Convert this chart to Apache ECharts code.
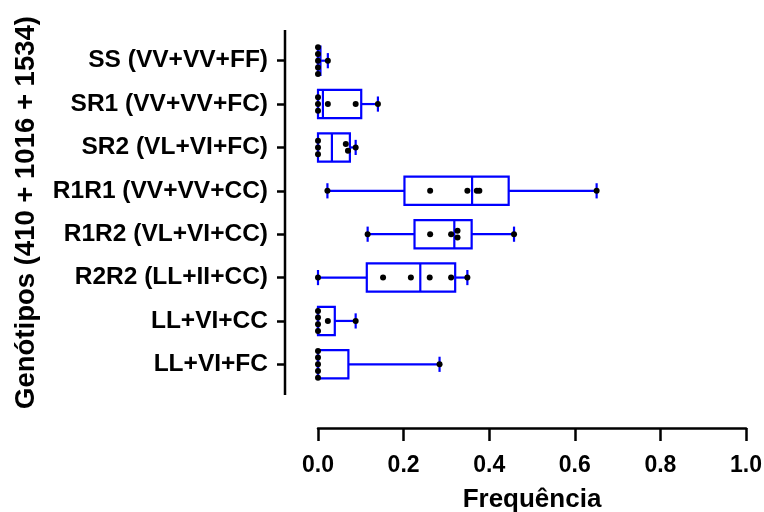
<!DOCTYPE html>
<html>
<head>
<meta charset="utf-8">
<script src="https://cdn.jsdelivr.net/npm/echarts@6/dist/echarts.min.js"></script>
<style>
  html, body { margin: 0; padding: 0; background: #fff; }
  #chart { width: 764px; height: 512px; }
</style>
</head>
<body>
<div id="chart"></div>
<script>
// Genotype groups, top to bottom
const categories = [
  'SS (VV+VV+FF)',
  'SR1 (VV+VV+FC)',
  'SR2 (VL+VI+FC)',
  'R1R1 (VV+VV+CC)',
  'R1R2 (VL+VI+CC)',
  'R2R2 (LL+II+CC)',
  'LL+VI+CC',
  'LL+VI+FC'
];

// Observed frequencies per group
const freqSS     = [0, 0, 0, 0, 0, 0.023];
const freqSR1    = [0, 0, 0, 0.023, 0.088, 0.140];
const freqSR2    = [0, 0, 0, 0.065, 0.070, 0.088];
const freqR1R1   = [0.022, 0.262, 0.349, 0.371, 0.377, 0.651];
const freqR1R2   = [0.116, 0.262, 0.311, 0.326, 0.326, 0.458];
const freqR2R2   = [0, 0.152, 0.217, 0.261, 0.311, 0.349];
const freqLLVICC = [0, 0, 0, 0, 0.023, 0.088];
const freqLLVIFC = [0, 0, 0, 0, 0, 0.284];

const groups = [freqSS, freqSR1, freqSR2, freqR1R1, freqR1R2, freqR2R2, freqLLVICC, freqLLVIFC];

// x axis ticks
const xTicks = [0, 0.2, 0.4, 0.6, 0.8, 1.0];

// Quartile with the (n+1)p rule
function quantile(sorted, p) {
  const n = sorted.length;
  const pos = p * (n + 1);
  if (pos <= 1) return sorted[0];
  if (pos >= n) return sorted[n - 1];
  const lo = Math.floor(pos);
  const f = pos - lo;
  return sorted[lo - 1] + f * (sorted[lo] - sorted[lo - 1]);
}

const boxData = groups.map((vals, i) => {
  const s = vals.slice().sort((a, b) => a - b);
  return [i, s[0], quantile(s, 0.25), quantile(s, 0.5), quantile(s, 0.75), s[s.length - 1]];
});

// Spread coincident points vertically
const DOT_STEP = 6.7;
const TOL = 0.0055;
const dotData = [];
groups.forEach((vals, i) => {
  const s = vals.slice().sort((a, b) => a - b);
  let k = 0;
  while (k < s.length) {
    let j = k;
    while (j + 1 < s.length && s[j + 1] - s[j] < TOL) j++;
    const n = j - k + 1;
    for (let m = 0; m < n; m++) {
      dotData.push({
        value: [s[k + m], i],
        symbolOffset: [0, (m - (n - 1) / 2) * DOT_STEP]
      });
    }
    k = j + 1;
  }
});

const FONT = '"Liberation Sans", Arial, sans-serif';
const BLUE = '#0000ff';

const chart = echarts.init(document.getElementById('chart'));
chart.setOption({
  animation: false,
  backgroundColor: '#ffffff',
  grid: { left: 318, right: 18, top: 39, height: 347, containLabel: false, outerBoundsMode: 'none' },
  xAxis: {
    type: 'value',
    min: xTicks[0],
    max: xTicks[xTicks.length - 1],
    interval: 0.2,
    offset: 42,
    name: 'Frequência',
    nameLocation: 'middle',
    nameGap: 59,
    nameTextStyle: { fontFamily: FONT, fontWeight: 'bold', fontSize: 26, color: '#000' },
    axisLine: { show: true, onZero: false, lineStyle: { color: '#000', width: 2.5 } },
    axisTick: { show: true, length: 13, lineStyle: { color: '#000', width: 2.5 } },
    axisLabel: {
      fontFamily: FONT, fontWeight: 'bold', fontSize: 23, color: '#000', margin: 26,
      formatter: v => v.toFixed(1)
    },
    splitLine: { show: false }
  },
  yAxis: {
    type: 'category',
    data: categories,
    inverse: true,
    offset: 33,
    name: 'Genótipos (410 + 1016 + 1534)',
    nameLocation: 'middle',
    nameGap: 245,
    nameTextStyle: { fontFamily: FONT, fontWeight: 'bold', fontSize: 27.5, color: '#000' },
    axisLine: { show: false, onZero: false },
    axisTick: { show: true, alignWithLabel: true, length: 8, lineStyle: { color: '#000', width: 2.5 } },
    axisLabel: { fontFamily: FONT, fontWeight: 'bold', fontSize: 24.5, color: '#000', margin: 17 },
    splitLine: { show: false }
  },
  // left axis line, running a little past the category bands at both ends
  graphic: [{
    type: 'line',
    shape: { x1: 285, y1: 30, x2: 285, y2: 395 },
    style: { stroke: '#000', lineWidth: 2.5 },
    silent: true
  }],
  series: [
    {
      type: 'custom',
      z: 2,
      encode: { x: [1, 2, 3, 4, 5], y: 0 },
      data: boxData,
      renderItem: function (params, api) {
        const c = api.value(0);
        const y = api.coord([0, c])[1];
        const band = api.size([0, 1])[1];
        const bh = band * 0.65;
        const ch = band * 0.35;
        const px = idx => api.coord([api.value(idx), c])[0];
        const xMin = px(1), xQ1 = px(2), xMed = px(3), xQ3 = px(4), xMax = px(5);
        const st = { stroke: BLUE, lineWidth: 2.2, fill: null };
        return {
          type: 'group',
          children: [
            { type: 'line', shape: { x1: xMin, y1: y, x2: xQ1, y2: y }, style: st },
            { type: 'line', shape: { x1: xQ3, y1: y, x2: xMax, y2: y }, style: st },
            { type: 'line', shape: { x1: xMin, y1: y - ch / 2, x2: xMin, y2: y + ch / 2 }, style: st },
            { type: 'line', shape: { x1: xMax, y1: y - ch / 2, x2: xMax, y2: y + ch / 2 }, style: st },
            { type: 'rect', shape: { x: xQ1, y: y - bh / 2, width: xQ3 - xQ1, height: bh }, style: { stroke: BLUE, lineWidth: 2.2, fill: 'rgba(0,0,0,0)' } },
            { type: 'line', shape: { x1: xMed, y1: y - bh / 2, x2: xMed, y2: y + bh / 2 }, style: st }
          ]
        };
      }
    },
    {
      type: 'scatter',
      z: 5,
      symbol: 'circle',
      symbolSize: 6,
      itemStyle: { color: '#000', opacity: 1 },
      data: dotData
    }
  ]
});
</script>
</body>
</html>
